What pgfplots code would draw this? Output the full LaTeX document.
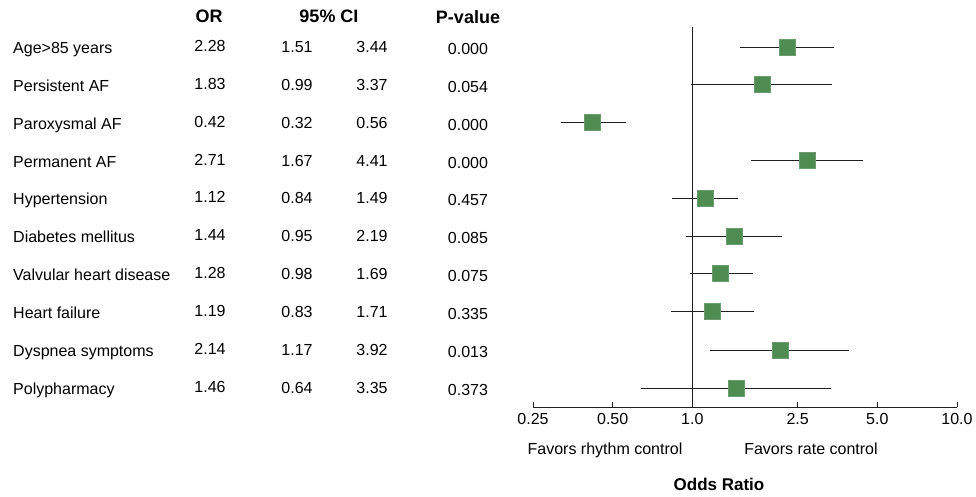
\documentclass[border=0pt]{standalone}
\usepackage{fontspec}
\setmainfont{Liberation Sans}
\usepackage{pgfplots}
\pgfplotsset{compat=1.18}
\definecolor{sqgreen}{RGB}{78,140,82}
\definecolor{cigray}{RGB}{30,30,30}
\begin{document}
\begin{tikzpicture}[x=1pt,y=1pt]
\useasboundingbox (0,0) rectangle (976,-496);
\tikzset{txt/.style={font=\fontsize{16}{19}\selectfont, inner sep=0pt, anchor=base},
         hdr/.style={font=\fontsize{18}{21}\selectfont\bfseries, inner sep=0pt, anchor=base}}
% headers
\node[hdr] at (209,-22) {OR};
\node[hdr] at (329,-22) {95\% CI};
\node[hdr] at (468,-23) {P-value};
% table rows
\foreach \y/\lab/\orv/\lo/\hi/\p in {
 47/Age>85 years/2.28/1.51/3.44/0.000,
 85/Persistent AF/1.83/0.99/3.37/0.054,
 123/Paroxysmal AF/0.42/0.32/0.56/0.000,
 161/Permanent AF/2.71/1.67/4.41/0.000,
 198/Hypertension/1.12/0.84/1.49/0.457,
 236/Diabetes mellitus/1.44/0.95/2.19/0.085,
 274/Valvular heart disease/1.28/0.98/1.69/0.075,
 312/Heart failure/1.19/0.83/1.71/0.335,
 350/Dyspnea symptoms/2.14/1.17/3.92/0.013,
 388/Polypharmacy/1.46/0.64/3.35/0.373}{
 \node[txt, anchor=base west] at (13,-\y-6) {\lab};
 \node[txt] at (210,-\y-4) {\orv};
 \node[txt] at (297,-\y-5) {\lo};
 \node[txt] at (372,-\y-5) {\hi};
 \node[txt] at (468,-\y-7) {\p};
}
\begin{axis}[
  at={(533pt,-407pt)}, anchor=south west,
  scale only axis, width=424pt, height=380pt,
  xmode=log, xmin=0.25, xmax=10, ymin=-407, ymax=-27,
  axis x line*=bottom, axis y line=none,
  xtick={0.25,0.5,1,2.5,5,10},
  xticklabels={0.25,0.50,1.0,2.5,5.0,10.0},
  xtick align=inside, major tick length=5pt,
  minor tick num=0, minor xtick={},
  x axis line style={line width=0.9pt, cigray, -},
  every tick/.style={line width=0.9pt, cigray},
  xticklabel style={font=\fontsize{16}{19}\selectfont, inner sep=0pt, yshift=-6pt},
  /pgf/number format/assume math mode=true,
  clip=false,
]
\addplot[line width=0.9pt, cigray] coordinates {(1,-27) (1,-407)};
\addplot[line width=0.9pt, cigray] coordinates {(1.51,-47) (3.44,-47)};
\addplot[line width=0.9pt, cigray] coordinates {(0.99,-84) (3.37,-84)};
\addplot[line width=0.9pt, cigray] coordinates {(0.32,-122) (0.56,-122)};
\addplot[line width=0.9pt, cigray] coordinates {(1.67,-160) (4.41,-160)};
\addplot[line width=0.9pt, cigray] coordinates {(0.84,-198) (1.49,-198)};
\addplot[line width=0.9pt, cigray] coordinates {(0.95,-236) (2.19,-236)};
\addplot[line width=0.9pt, cigray] coordinates {(0.98,-273) (1.69,-273)};
\addplot[line width=0.9pt, cigray] coordinates {(0.83,-311) (1.71,-311)};
\addplot[line width=0.9pt, cigray] coordinates {(1.17,-350) (3.92,-350)};
\addplot[line width=0.9pt, cigray] coordinates {(0.64,-388) (3.35,-388)};
\addplot[only marks, mark=square*, mark size=8pt, mark options={fill=sqgreen, draw=sqgreen!85!white, line width=0.5pt}]
 coordinates {(2.28,-47) (1.83,-84) (0.42,-122) (2.71,-160) (1.12,-198) (1.44,-236) (1.28,-273) (1.19,-311) (2.14,-350) (1.46,-388)};
\end{axis}
\node[txt] at (605,-454) {Favors rhythm control};
\node[txt] at (811,-454) {Favors rate control};
\node[font=\fontsize{17}{20}\selectfont\bfseries, inner sep=0pt, anchor=base] at (719,-490) {Odds Ratio};
\end{tikzpicture}
\end{document}
